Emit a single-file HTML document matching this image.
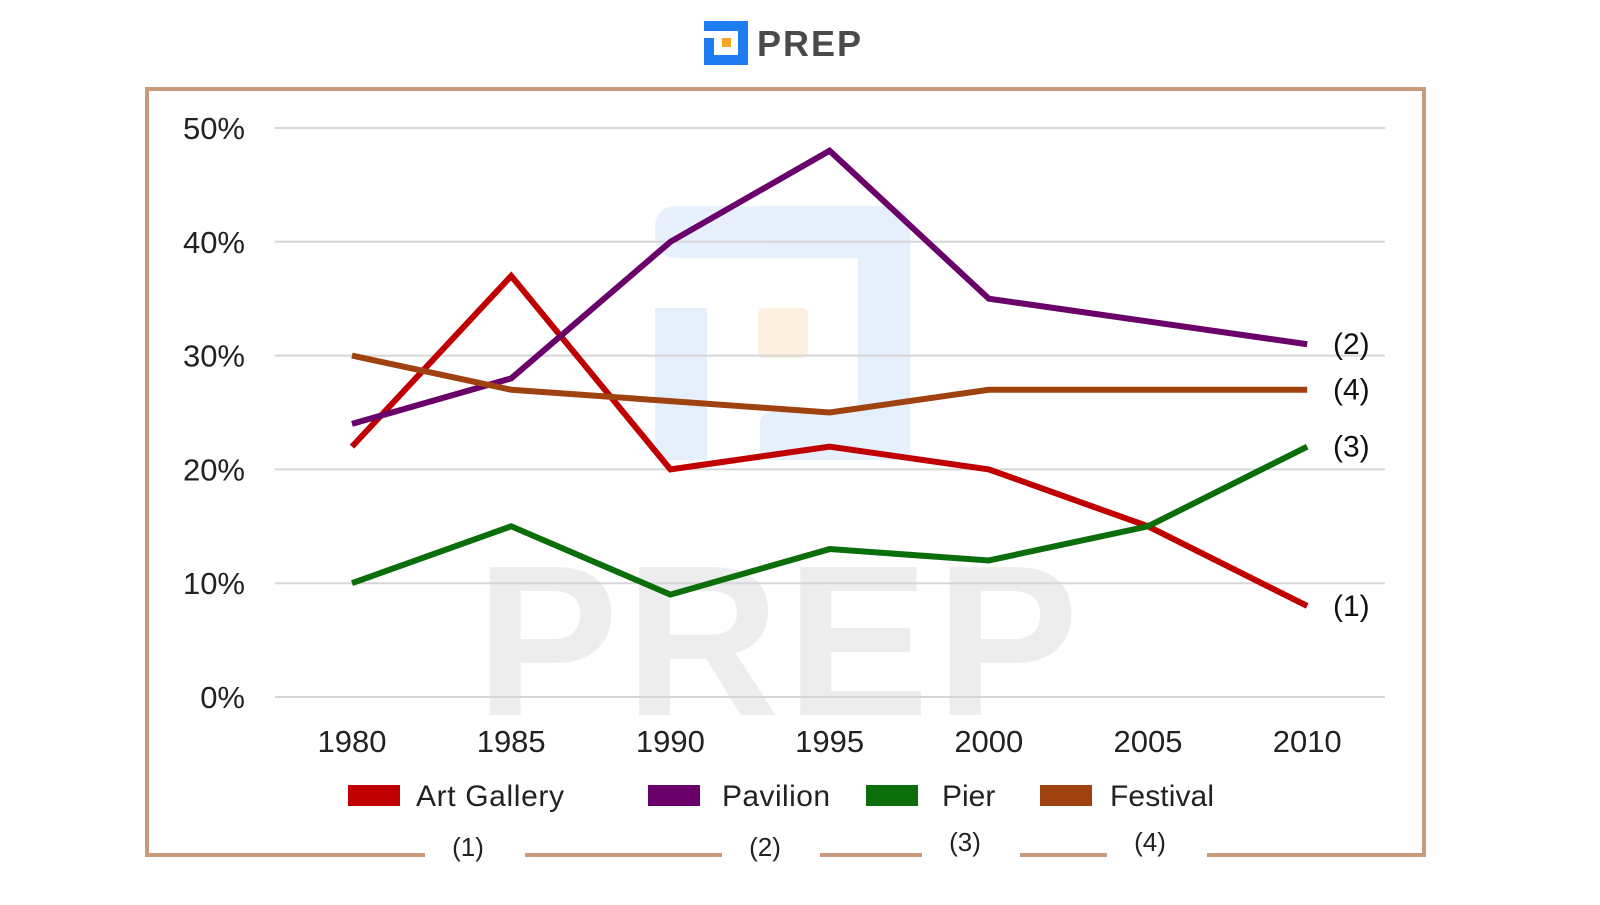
<!DOCTYPE html>
<html><head><meta charset="utf-8"><style>
body{margin:0;background:#fff;width:1600px;height:900px;overflow:hidden;font-family:"Liberation Sans",sans-serif}
</style></head><body>
<svg width="1600" height="900" viewBox="0 0 1600 900">
<g>
<path d="M704 21 H748 V65 H714 V55 H738 V31 H704 Z" fill="#1e7bf0"/>
<rect x="704" y="38" width="10" height="27" fill="#1e7bf0"/>
<rect x="722" y="38" width="9" height="9" fill="#f5a623"/>
<text x="757" y="56" font-size="36" font-weight="bold" fill="#4a4a4a" letter-spacing="2">PREP</text>
</g>
<g opacity="0.5">
<rect x="655" y="206" width="255" height="52" rx="20" fill="#cfe1fa"/>
<rect x="858" y="206" width="52" height="254" rx="20" fill="#cfe1fa"/>
<rect x="760" y="412" width="150" height="48" rx="10" fill="#cfe1fa"/>
<rect x="655" y="308" width="52" height="152" fill="#cfe1fa"/>
<rect x="758" y="308" width="50" height="50" rx="6" fill="#fde3c0"/>
<text x="780" y="715" font-size="215" font-weight="bold" fill="#dcdcdc" text-anchor="middle" letter-spacing="6">PREP</text>
</g>
<g id="frame" stroke="#c9997c" stroke-width="4" fill="none">
<path d="M425 855 H147 V89 H1424 V855 H1207"/>
<path d="M525 855 H722 M820 855 H922 M1020 855 H1107"/>
</g>
<g id="grid"></g><g id="lines"></g>
<g font-size="30" fill="#222">
<rect x="348" y="785" width="52" height="21" fill="#c00000"/>
<text x="416" y="806" textLength="148">Art Gallery</text>
<rect x="648" y="785" width="52" height="21" fill="#6a006a"/>
<text x="722" y="806" textLength="108">Pavilion</text>
<rect x="866" y="785" width="52" height="21" fill="#0b6e0b"/>
<text x="942" y="806">Pier</text>
<rect x="1040" y="785" width="52" height="21" fill="#a0420f"/>
<text x="1110" y="806" textLength="104">Festival</text>
</g>
<g font-size="26" fill="#222" text-anchor="middle">
<text x="468" y="856">(1)</text><text x="765" y="856">(2)</text><text x="965" y="851">(3)</text><text x="1150" y="851">(4)</text>
</g>
</svg>
<script>
const years=["1980","1985","1990","1995","2000","2005","2010"];
const yTicks=[0,10,20,30,40,50];
const artGallery=[22,37,20,22,20,15,8];
const pavilion=[24,28,40,48,35,33,31];
const pier=[10,15,9,13,12,15,22];
const festival=[30,27,26,25,27,27,27];
const NS="http://www.w3.org/2000/svg";
const xs=i=>352+i*159.2, ys=v=>697-v*11.38;
const grid=document.getElementById('grid'), lines=document.getElementById('lines');
function mk(tag,attrs,parent){const e=document.createElementNS(NS,tag);for(const k in attrs)e.setAttribute(k,attrs[k]);parent.appendChild(e);return e;}
yTicks.forEach(t=>{
 const l=mk('line',{x1:275,x2:1385,y1:ys(t),y2:ys(t),stroke:'#d6d6d6','stroke-width':2},grid);
 
 
 const tx=mk('text',{x:245,y:ys(t)+11,'text-anchor':'end','font-size':31,fill:'#222'},grid);
 tx.textContent=t+'%';
 
 
});
years.forEach((y,i)=>{
 const tx=mk('text',{x:xs(i),y:752,'text-anchor':'middle','font-size':31,fill:'#222'},grid);
 tx.textContent=y;
 
 
});
const series=[[artGallery,'#c00000','art-gallery-line','(1)'],[pavilion,'#6a006a','pavilion-line','(2)'],[pier,'#0b6e0b','pier-line','(3)'],[festival,'#a0420f','festival-line','(4)']];
series.forEach(([d,c,n,lab])=>{
 const p=mk('polyline',{points:d.map((v,i)=>xs(i)+','+ys(v)).join(' '),fill:'none',stroke:c,'stroke-width':6,'stroke-linejoin':'miter'},lines);
 
 
 const last=d[d.length-1];
 const tx=mk('text',{x:1333,y:ys(last)+10,'font-size':30,fill:'#111'},lines);
 tx.textContent=lab;
 
 
});
</script>
</body></html>
